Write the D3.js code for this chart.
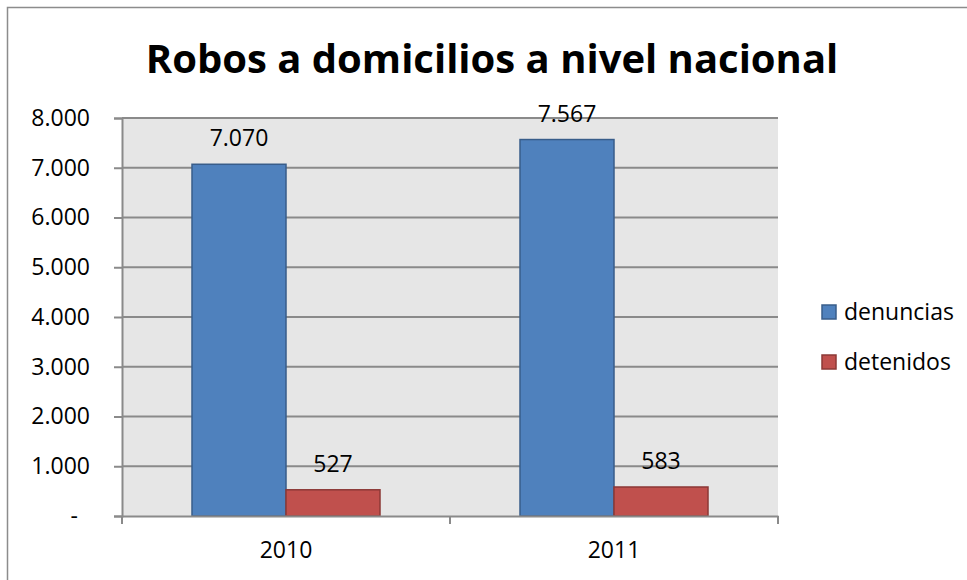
<!DOCTYPE html>
<html>
<head>
<meta charset="utf-8">
<script src="https://cdn.jsdelivr.net/npm/d3@7"></script>
<style>
  html, body { margin: 0; padding: 0; background: #ffffff; }
  svg { display: block; }
  text { font-family: "Open Sans", "Noto Sans", sans-serif; fill: #000; }
</style>
</head>
<body>
<svg id="chart" width="967" height="580"></svg>
<script>
// Chart data
const years = ["2010", "2011"];
const seriesNames = ["denuncias", "detenidos"];
const denuncias = [7070, 7567];
const detenidos = [527, 583];
const yTicks = [0, 1000, 2000, 3000, 4000, 5000, 6000, 7000, 8000];
const colors = ["#4F81BD", "#C0504D"];
const strokes = ["#385D8A", "#8C3836"];

const svg = d3.select("#chart");
const W = 967, H = 580;
const FS = 23;

// Outer chart frame
svg.append("rect")
  .attr("x", 7.5).attr("y", 7.5)
  .attr("width", W + 10).attr("height", H + 10)
  .attr("fill", "#fff").attr("stroke", "#8c8c8c").attr("stroke-width", 1.5);

const plot = { left: 122, right: 778, top: 118, bottom: 516 };

const x = d3.scaleBand().domain(years).range([plot.left, plot.right]);
// Bars sit 70px in from each category edge
const inner = d3.scaleBand().domain(seriesNames)
  .range([70, x.bandwidth() - 70]).padding(0);

const y = d3.scaleLinear().domain([0, 8000]).range([plot.bottom, plot.top]);

// Plot background
svg.append("rect")
  .attr("x", plot.left).attr("y", plot.top)
  .attr("width", plot.right - plot.left).attr("height", plot.bottom - plot.top)
  .attr("fill", "#e6e6e6");

// Horizontal gridlines
svg.append("g").selectAll("line").data(yTicks.filter(d => d > 0)).join("line")
  .attr("x1", plot.left).attr("x2", plot.right)
  .attr("y1", d => y(d)).attr("y2", d => y(d))
  .attr("stroke", "#8a8a8a").attr("stroke-width", 2);

// Number format: dot as thousands separator, dash for zero
const fmt = d => d === 0 ? "-" : d3.format(",")(d).replace(/,/g, ".");

// Y axis
const yAxis = d3.axisLeft(y).tickValues(yTicks).tickSize(8).tickPadding(24)
  .tickFormat(fmt);
const gy = svg.append("g").attr("transform", `translate(${plot.left},0)`).call(yAxis);
gy.select(".domain").attr("stroke", "#8a8a8a").attr("stroke-width", 2);
gy.selectAll(".tick line").attr("stroke", "#8a8a8a").attr("stroke-width", 2);
gy.selectAll(".tick text")
  .attr("font-size", FS).attr("font-family", "'Open Sans', sans-serif").attr("fill", "#000");
// Zero dash is padded in from the right edge (accounting style)
gy.selectAll(".tick text").filter(d => d === 0).attr("dx", -12);

// Bars
const data = years.map((yr, i) => ({ year: yr, values: [denuncias[i], detenidos[i]] }));
const groups = svg.append("g").selectAll("g").data(data).join("g")
  .attr("transform", d => `translate(${x(d.year)},0)`);

groups.selectAll("rect").data(d => d.values.map((v, j) => ({ name: seriesNames[j], v, j })))
  .join("rect")
  .attr("x", d => inner(d.name))
  .attr("y", d => y(d.v))
  .attr("width", inner.bandwidth())
  .attr("height", d => y(0) - y(d.v))
  .attr("fill", d => colors[d.j])
  .attr("stroke", d => strokes[d.j]).attr("stroke-width", 1.5);

// Value labels
groups.selectAll("text.val").data(d => d.values.map((v, j) => ({ name: seriesNames[j], v, j })))
  .join("text").attr("class", "val")
  .attr("x", d => inner(d.name) + inner.bandwidth() / 2)
  .attr("y", d => y(d.v) - 18)
  .attr("text-anchor", "middle")
  .attr("font-size", FS)
  .text(d => fmt(d.v));

// X axis
const xAxis = d3.axisBottom(x).tickSize(0).tickPadding(26);
const gx = svg.append("g").attr("transform", `translate(0,${plot.bottom})`).call(xAxis);
gx.select(".domain").attr("stroke", "#8a8a8a").attr("stroke-width", 2);
gx.selectAll(".tick text")
  .attr("font-size", FS).attr("font-family", "'Open Sans', sans-serif").attr("fill", "#000");
// Category separator ticks
svg.append("g").selectAll("line")
  .data([plot.left, ...years.map(yr => x(yr) + x.bandwidth())])
  .join("line")
  .attr("x1", d => d).attr("x2", d => d)
  .attr("y1", plot.bottom).attr("y2", plot.bottom + 8)
  .attr("stroke", "#8a8a8a").attr("stroke-width", 2);

// Title
svg.append("text")
  .attr("x", 492).attr("y", 73)
  .attr("text-anchor", "middle")
  .attr("font-family", "Lato, 'Open Sans', sans-serif")
  .attr("font-weight", "bold")
  .attr("font-size", 40)
  .text("Robos a domicilios a nivel nacional");

// Legend
const legend = svg.append("g").selectAll("g").data(seriesNames).join("g")
  .attr("transform", (d, i) => `translate(822,${305 + i * 50})`);
legend.append("rect")
  .attr("width", 14).attr("height", 14)
  .attr("fill", (d, i) => colors[i]).attr("stroke", (d, i) => strokes[i]).attr("stroke-width", 1.5);
legend.append("text")
  .attr("x", 22).attr("y", 7).attr("dy", "0.35em")
  .attr("font-size", FS)
  .text(d => d);
</script>
</body>
</html>
